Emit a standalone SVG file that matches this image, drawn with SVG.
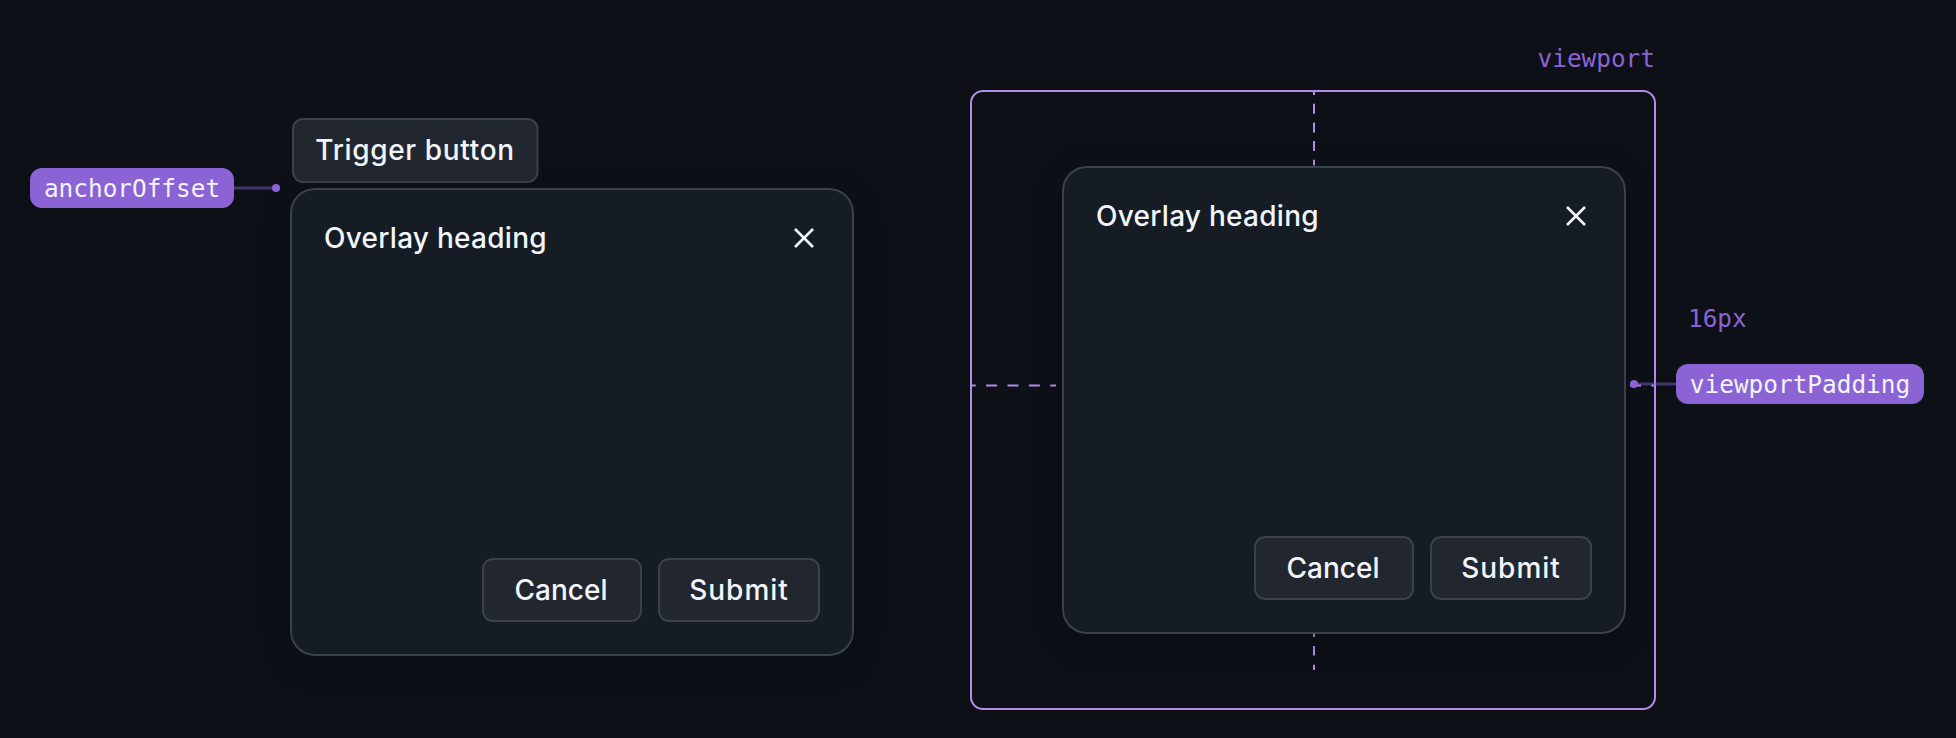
<svg xmlns="http://www.w3.org/2000/svg" width="1956" height="738" viewBox="0 0 1956 738">
<defs>
<filter id="sh" x="-20%" y="-20%" width="140%" height="140%" color-interpolation-filters="sRGB"><feDropShadow dx="0" dy="8" stdDeviation="16" flood-color="#000" flood-opacity="0.2"/></filter>
<g id="closeX"><path d="M-9-9L9 9M9-9L-9 9" fill="none" stroke="#f2f5fc" stroke-width="2.6"/></g>
</defs>
<style>
.ov{fill:#151c24;stroke:#3b414b;stroke-width:2;filter:url(#sh)}
.btn{fill:#22272f;stroke:#3b414b;stroke-width:2}
.t{font-family:Inter,"Noto Sans",sans-serif;font-weight:500;font-size:28px;fill:#f2f5fc}
.h{letter-spacing:.27px}
.tr{letter-spacing:.65px}
.su{letter-spacing:1px}
.pill{fill:#8b63d4}
.pt{font-family:"DejaVu Sans Mono",monospace;font-size:24.4px;fill:#f2f5fc}
.lab{font-family:"DejaVu Sans Mono",monospace;font-size:24.4px;fill:#8b63d4}
.dv{fill:none;stroke:#b18ee8;stroke-width:2;stroke-dasharray:10 8.7;stroke-dashoffset:7}
.dh{fill:none;stroke:#b18ee8;stroke-width:2;stroke-dasharray:11 10.4;stroke-dashoffset:7.300}
.lead{stroke:#8b63d4;stroke-width:3;stroke-opacity:.45;fill:none}
</style>
<rect width="1956" height="738" fill="#0d1017"/>
<g id="connectors">
<path class="lead" d="M234 188H276"/>
<path class="dv" d="M1314 92V165.500"/>
<path class="dv" d="M1314 634V670" style="stroke-dasharray:9.300 9.400;stroke-dashoffset:6.600"/>
<path class="dh" d="M972 385.500H1056"/>
<path class="dh" d="M1630 385.500H1654" style="stroke-dashoffset:0"/>
</g>
<g id="viewport">
<rect x="971" y="91" width="684" height="618" rx="12" fill="none" stroke="#b18ee8" stroke-width="2"/>
<text class="lab" x="1655" y="66.700" text-anchor="end">viewport</text>
</g>
<g id="left-trigger">
<rect class="btn" x="293" y="119" width="244.500" height="63" rx="10"/>
<text class="t tr" x="415" y="160" text-anchor="middle">Trigger button</text>
</g>
<g id="left-overlay">
<rect class="ov" x="291" y="189" width="562" height="466" rx="24"/>
<text class="t h" x="324" y="248">Overlay heading</text>
<use href="#closeX" x="804" y="238"/>
<rect class="btn" x="483" y="559" width="158" height="62" rx="10"/>
<text class="t" x="561" y="600" text-anchor="middle">Cancel</text>
<rect class="btn" x="659" y="559" width="160" height="62" rx="10"/>
<text class="t su" x="739" y="600" text-anchor="middle">Submit</text>
</g>
<g id="right-overlay">
<rect class="ov" x="1063" y="167" width="562" height="466" rx="24"/>
<text class="t h" x="1096" y="226">Overlay heading</text>
<use href="#closeX" x="1576" y="216"/>
<rect class="btn" x="1255" y="537" width="158" height="62" rx="10"/>
<text class="t" x="1333" y="578" text-anchor="middle">Cancel</text>
<rect class="btn" x="1431" y="537" width="160" height="62" rx="10"/>
<text class="t su" x="1511" y="578" text-anchor="middle">Submit</text>
</g>
<g id="anchorOffset">
<rect class="pill" x="30" y="168" width="204" height="40" rx="12"/>
<text class="pt" x="132" y="197" text-anchor="middle">anchorOffset</text>
<circle cx="276" cy="188" r="4" fill="#8b63d4"/>
</g>
<g id="viewportPadding">
<path class="lead" d="M1634 384H1677"/>
<rect class="pill" x="1676" y="364" width="248" height="40" rx="12"/>
<text class="pt" x="1800" y="393" text-anchor="middle">viewportPadding</text>
<circle cx="1634" cy="384" r="4" fill="#8b63d4"/>
<text class="lab" x="1688" y="326.700">16px</text>
</g>
</svg>
